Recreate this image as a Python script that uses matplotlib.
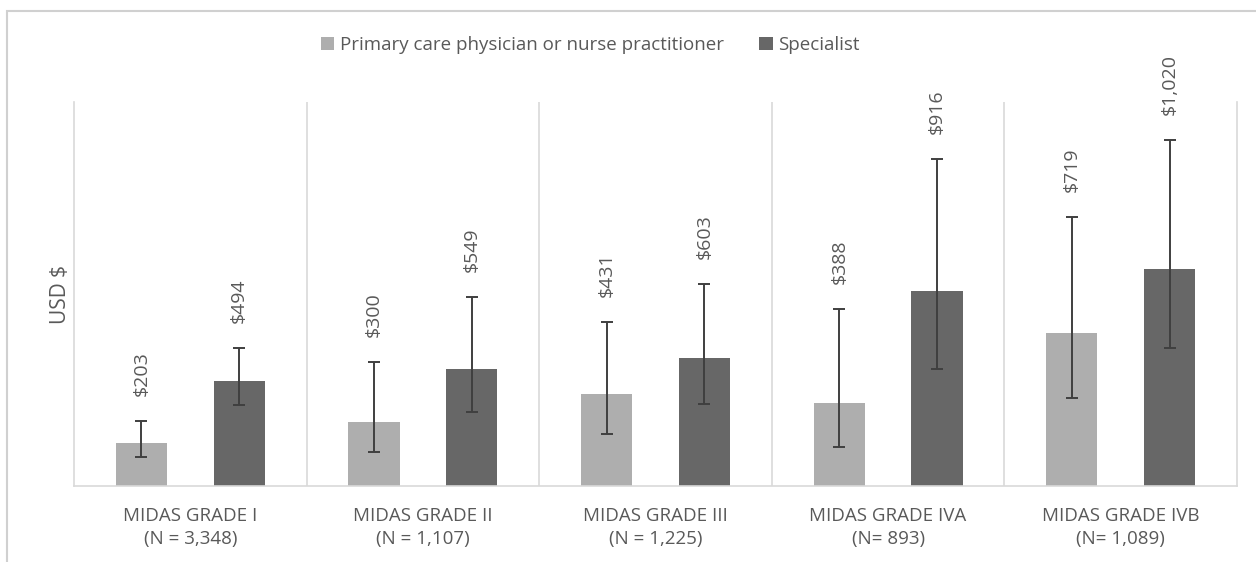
import matplotlib
matplotlib.use("Agg")
import matplotlib.pyplot as plt
from matplotlib.patches import Rectangle
import numpy as np

plt.rcParams['font.family'] = ['Open Sans', 'DejaVu Sans']

# data
grades = ["MIDAS GRADE I\n(N = 3,348)", "MIDAS GRADE II\n(N = 1,107)",
          "MIDAS GRADE III\n(N = 1,225)", "MIDAS GRADE IVA\n(N= 893)",
          "MIDAS GRADE IVB\n(N= 1,089)"]
pcp_cost = [203, 300, 431, 388, 719]
pcp_low = [136, 160, 244, 183, 413]
pcp_high = [305, 582, 770, 831, 1263]
spec_cost = [494, 549, 603, 916, 1020]
spec_low = [380, 347, 385, 549, 648]
spec_high = [648, 887, 948, 1535, 1624]
series_names = ["Primary care physician or nurse practitioner", "Specialist"]

TEXT = "#595959"
GRID = "#d9d9d9"

fig = plt.figure(figsize=(12.56, 5.62), dpi=100)
ax = fig.add_axes([74 / 1256, 76 / 562, 1163 / 1256, 384 / 562])

x = np.arange(len(grades))
off, w = 0.21, 0.22

for vals, lo, hi, dx, col, name in [
        (pcp_cost, pcp_low, pcp_high, -off, "#aeaeae", series_names[0]),
        (spec_cost, spec_low, spec_high, off, "#676767", series_names[1])]:
    vals = np.array(vals)
    err = [vals - np.array(lo), np.array(hi) - vals]
    ax.bar(x + dx, vals, width=w, color=col, label=name, zorder=2)
    ax.errorbar(x + dx, vals, yerr=err, fmt="none", ecolor="#3f3f3f",
                elinewidth=1.4, capsize=4.5, capthick=1.4, zorder=3)
    for xi, v, h in zip(x + dx, vals, hi):
        ax.annotate(f"${v:,}", (xi, h), xytext=(0, 18), textcoords="offset points",
                    rotation=90, ha="center", va="bottom", fontsize=14, color=TEXT)

ax.set_xlim(-0.5, len(grades) - 0.5)
ax.set_ylim(0, 1803)
for b in np.arange(0.5, len(grades) - 0.5):
    ax.axvline(b, color=GRID, lw=1.2, zorder=1)

ax.spines['top'].set_visible(False)
for s in ['left', 'right', 'bottom']:
    ax.spines[s].set_color(GRID)
    ax.spines[s].set_linewidth(1.2)

ax.set_yticks([])
ax.set_xticks(x)
ax.set_xticklabels(grades, fontsize=13.5, color=TEXT, linespacing=1.4)
ax.tick_params(axis='x', length=0, pad=15)
ax.set_ylabel("USD $", fontsize=15, color=TEXT, labelpad=2)

leg = fig.legend(loc="center", bbox_to_anchor=(0.47, 1 - 45 / 562), ncol=2,
                 frameon=False, fontsize=13.5, handlelength=0.7, handleheight=0.7,
                 handletextpad=0.3, columnspacing=1.9)
for t in leg.get_texts():
    t.set_color(TEXT)

# outer chart border (only left/top visible in the crop)
fig.add_artist(Rectangle((7 / 1256, -0.1), 1.2, 1.1 - 11 / 562,
                         transform=fig.transFigure, fill=False,
                         edgecolor="#d0d0d0", lw=1.5))

fig.savefig("out.png", dpi=100)
